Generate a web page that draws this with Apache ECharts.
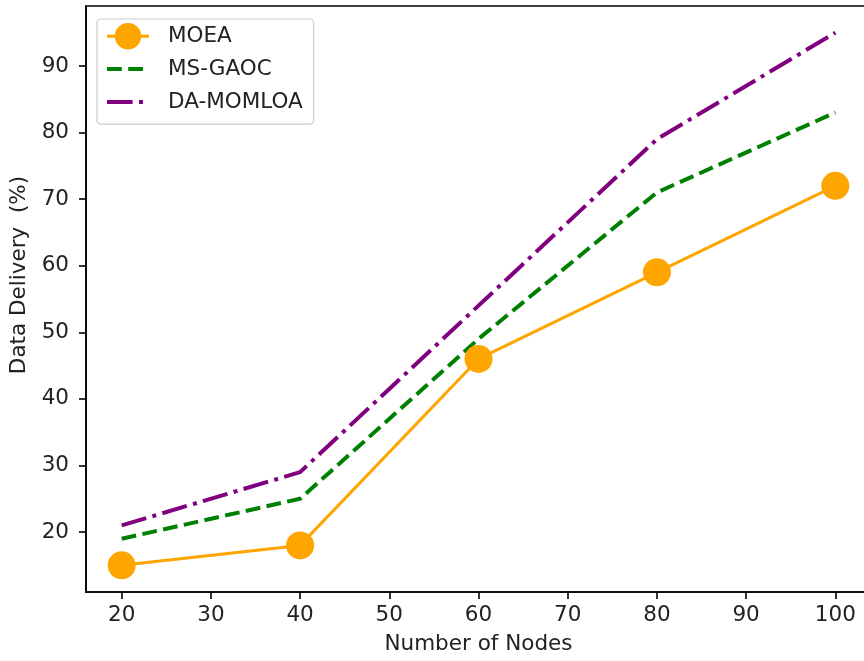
<!DOCTYPE html>
<html>
<head>
<meta charset="utf-8">
<script src="https://cdn.jsdelivr.net/npm/echarts@6/dist/echarts.min.js"></script>
<style>html,body{margin:0;padding:0;background:#fff}#c{width:864px;height:661px}</style>
</head>
<body>
<div id="c"></div>
<script>
const nodes = [20, 40, 60, 80, 100];
const moea = [15, 18, 46, 59, 72];
const msgaoc = [19, 25, 49, 71, 83];
const damomloa = [21, 29, 54, 79, 95];
const xTicks = [20, 30, 40, 50, 60, 70, 80, 90, 100];
const yTicks = [20, 30, 40, 50, 60, 70, 80, 90];
const seriesNames = ['MOEA', 'MS-GAOC', 'DA-MOMLOA'];
const xLabel = 'Number of Nodes';
const yLabel = 'Data Delivery  (%)';

const FONT = 'DejaVu Sans';
const FS = 21.5;
const DASHED = [14.8, 6.4];
const DASHDOT = [25.6, 6.4, 4, 6.4];
const pairs = arr => nodes.map((n, i) => [n, arr[i]]);

const chart = echarts.init(document.getElementById('c'), null, {renderer: 'canvas'});
chart.setOption({
  animation: false,
  backgroundColor: '#fff',
  grid: {left: 86, top: 6, width: 785, height: 586, outerBoundsMode: 'none', containLabel: false,
         show: true, borderColor: '#000', borderWidth: 1.6, backgroundColor: 'transparent'},
  xAxis: {
    type: 'value', min: 16, max: 104,
    axisLine: {show: true, onZero: false, lineStyle: {color: '#000', width: 1.6}},
    axisTick: {show: true, length: 7, lineStyle: {color: '#000', width: 1.6}, customValues: xTicks},
    axisLabel: {customValues: xTicks, color: '#222', fontFamily: FONT, fontSize: FS, margin: 12},
    splitLine: {show: false},
    name: xLabel, nameLocation: 'middle', nameGap: 41,
    nameTextStyle: {color: '#222', fontFamily: FONT, fontSize: FS}
  },
  yAxis: {
    type: 'value', min: 11, max: 99,
    axisLine: {show: true, onZero: false, lineStyle: {color: '#000', width: 1.6}},
    axisTick: {show: true, length: 7, lineStyle: {color: '#000', width: 1.6}, customValues: yTicks},
    axisLabel: {customValues: yTicks, color: '#222', fontFamily: FONT, fontSize: FS, margin: 17},
    splitLine: {show: false}
  },
  graphic: [{
    type: 'text', x: 19, y: 275, rotation: Math.PI / 2,
    style: {text: yLabel, fill: '#222', font: FS + 'px "DejaVu Sans"', textAlign: 'center', textVerticalAlign: 'middle'}
  }],
  legend: {
    orient: 'vertical', left: 97, top: 19,
    data: [
      {name: seriesNames[0], lineStyle: {width: 3, color: '#FFA500'}},
      {name: seriesNames[1], itemStyle: {opacity: 0}, lineStyle: {width: 4, color: '#008000', type: DASHED, cap: 'butt'}},
      {name: seriesNames[2], itemStyle: {opacity: 0}, lineStyle: {width: 4, color: '#800080', type: DASHDOT, cap: 'butt'}}
    ],
    itemWidth: 42, itemHeight: 33, itemGap: 6.5,
    padding: [4, 11, 9, 8],
    backgroundColor: 'rgba(255,255,255,0.85)',
    borderColor: '#cccccc', borderWidth: 1.2, borderRadius: 4,
    textStyle: {color: '#222', fontFamily: FONT, fontSize: FS, padding: [0, 0, 0, 14]}
  },
  series: [
    {
      name: seriesNames[0], type: 'line', data: pairs(moea),
      symbol: 'circle', symbolSize: 28,
      itemStyle: {color: '#FFA500'},
      lineStyle: {color: '#FFA500', width: 3},
      z: 3
    },
    {
      name: seriesNames[1], type: 'line', data: pairs(msgaoc),
      symbol: 'none',
      itemStyle: {color: '#008000'},
      lineStyle: {color: '#008000', width: 4, type: DASHED, cap: 'butt'},
      z: 2
    },
    {
      name: seriesNames[2], type: 'line', data: pairs(damomloa),
      symbol: 'none',
      itemStyle: {color: '#800080'},
      lineStyle: {color: '#800080', width: 4, type: DASHDOT, cap: 'butt'},
      z: 2
    }
  ]
});
</script>
</body>
</html>
